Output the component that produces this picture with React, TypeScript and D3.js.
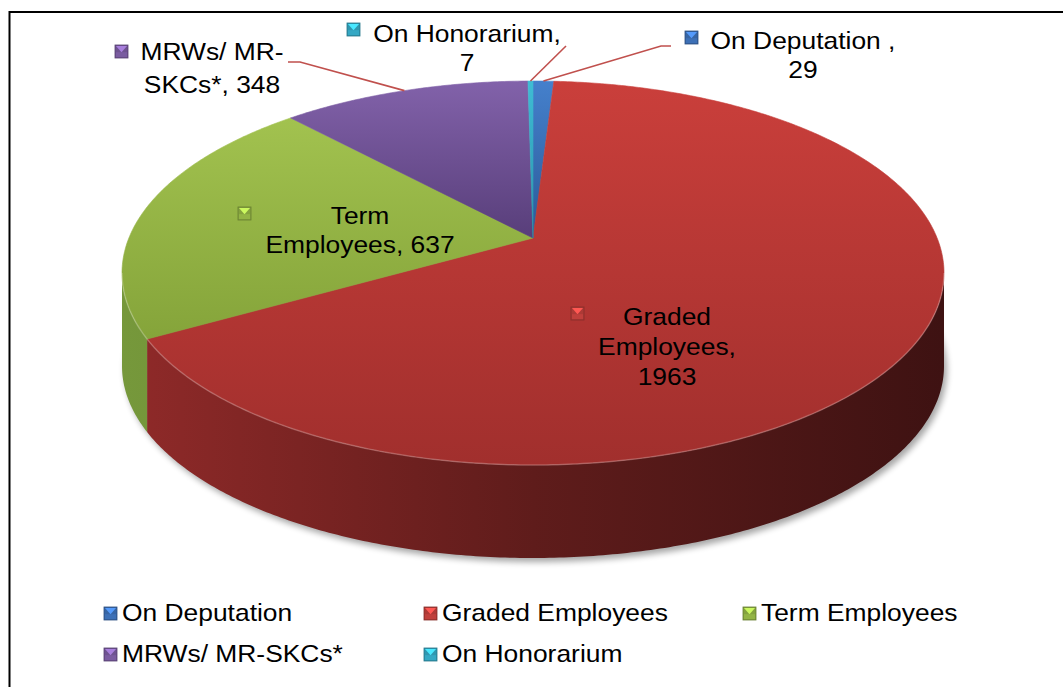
import * as d3 from "d3";

// data
const categories = ["On Deputation", "Graded Employees", "Term Employees", "MRWs/ MR-SKCs*", "On Honorarium"];
const values = [29, 1963, 637, 348, 7];
// data label lines, {v} is replaced by the value
const labelLines = [
  ["On Deputation ,", "{v}"],
  ["Graded", "Employees,", "{v}"],
  ["Term", "Employees, {v}"],
  ["MRWs/ MR-", "SKCs*, {v}"],
  ["On Honorarium,", "{v}"],
];

// styles
const topLight = ["#4580cc", "#ca3f3b", "#a2c24f", "#8262aa", "#3fbcd4"];
const topDark = ["#2b5a98", "#a12f2d", "#85a43a", "#583e7a", "#2a92aa"];
const sideLight = ["#2f5c96", "#902a29", "#76983b", "#5e4482", "#2b8ea6"];
const sideDark = ["#1d3a60", "#3e1212", "#5b782b", "#3c2a55", "#1d6070"];
const keyColor = ["#3d70b6", "#c0403c", "#93b445", "#7a5ca0", "#35a8c4"];

// layout
const W = 1063;
const H = 687;
const CX = 533;
const CY = 273;
const RX = 411;
const RY = 192;
const K = -0.182; // perspective shift of the centre
const DEPTH = 93;
const FONT = "'Liberation Sans', Arial, sans-serif";
const STRETCH = 1.1;

const labelLayout = [
  { cx: 803, baselines: [49, 78], mx: 685, my: 31, leader: [[671, 46], [661, 46]] },
  { cx: 667, baselines: [325, 355, 385], mx: 571, my: 307, leader: null },
  { cx: 360, baselines: [224, 253], mx: 238, my: 207, leader: null },
  { cx: 212, baselines: [60, 93], mx: 115, my: 45, leader: [[288, 62], [300, 62]] },
  { cx: 467, baselines: [42, 71], mx: 347, my: 23, leader: [[566, 46]] },
];
const legendCols = [104, 424, 743];
const legendRows = [621, 662];

const CH = 1 / Math.sqrt(1 - K * K);
const SH = K * CH;

function proj(phi: number, dy = 0): [number, number] {
  const ux = Math.sin(phi);
  const uy = -Math.cos(phi);
  const w = uy * SH + CH;
  return [CX + (RX * ux) / w, CY + (RY * (uy * CH + SH)) / w + dy];
}

function arcPoints(a0: number, a1: number, dy = 0): [number, number][] {
  const n = Math.max(2, Math.ceil((a1 - a0) / 0.01));
  return d3.range(n + 1).map((i) => proj(a0 + ((a1 - a0) * i) / n, dy));
}

const line = d3.line();
const centre: [number, number] = [CX, CY + RY * K];
const F0 = Math.acos(K);
const F1 = 2 * Math.PI - F0;

function Key({ x, y, s, color }: { x: number; y: number; s: number; color: string }) {
  const c = d3.color(color)!;
  return (
    <g transform={`translate(${x},${y})`}>
      <rect width={s} height={s} fill={c.darker(0.3).toString()} />
      <polygon points={`1,1 ${s - 1},1 ${s / 2},${s * 0.55}`} fill={c.brighter(0.9).toString()} />
      <rect x={1} y={s * 0.55} width={s - 2} height={s * 0.45 - 1} fill={c.toString()} />
      <rect width={s} height={s} fill="none" stroke={c.darker(1).toString()} strokeWidth={0.8} />
    </g>
  );
}

function SText({ x, y, anchor, children }: { x: number; y: number; anchor: string; children: string }) {
  return (
    <text
      transform={`translate(${x},${y}) scale(${STRETCH},1)`}
      textAnchor={anchor}
      fontFamily={FONT}
      fontSize={24}
      fill="#000"
    >
      {children}
    </text>
  );
}

export default function App() {
  const arcs = d3
    .pie<number>()
    .sort(null)
    .startAngle(0)
    .endAngle(2 * Math.PI)(values);

  const bottomOutline = line(arcPoints(0, 2 * Math.PI, DEPTH)) + "Z";

  return (
    <svg
      width={W}
      height={H}
      style={{ position: "absolute", left: 0, top: 0, background: "#fff" }}
    >
      <defs>
        <filter id="shadow" x="-10%" y="-10%" width="120%" height="130%">
          <feGaussianBlur stdDeviation={3} />
        </filter>
        {arcs.map((a, i) => (
          <linearGradient key={`t${i}`} id={`top${i}`} x1="0" y1="0" x2="0" y2="1">
            <stop offset="0" stopColor={topLight[i]} />
            <stop offset="1" stopColor={topDark[i]} />
          </linearGradient>
        ))}
        {arcs.map((a, i) => (
          <linearGradient
            key={`s${i}`}
            id={`side${i}`}
            gradientUnits="userSpaceOnUse"
            x1={CX - RX}
            y1={0}
            x2={CX + RX}
            y2={0}
          >
            <stop offset="0" stopColor={sideLight[i]} />
            <stop offset="0.5" stopColor={d3.interpolateRgb(sideLight[i], sideDark[i])(0.6)} />
            <stop offset="1" stopColor={sideDark[i]} />
          </linearGradient>
        ))}
      </defs>

      <rect x={9.5} y={12} width={W + 20} height={H + 20} fill="none" stroke="#000" strokeWidth={2} />

      {/* shadow */}
      <path
        d={bottomOutline}
        transform="translate(3,4)"
        fill="#000"
        opacity={0.35}
        filter="url(#shadow)"
      />

      {/* sides */}
      {arcs.map((a, i) => {
        const s0 = Math.max(a.startAngle, F0);
        const s1 = Math.min(a.endAngle, F1);
        if (s1 <= s0) return null;
        const pts = [...arcPoints(s0, s1), ...arcPoints(s0, s1, DEPTH).reverse()];
        return <path key={`side${i}`} d={line(pts) + "Z"} fill={`url(#side${i})`} />;
      })}

      {/* tops */}
      {arcs.map((a, i) => {
        const pts = [centre, ...arcPoints(a.startAngle, a.endAngle)];
        return (
          <path
            key={`top${i}`}
            d={line(pts) + "Z"}
            fill={`url(#top${i})`}
            stroke={`url(#top${i})`}
            strokeWidth={0.6}
          />
        );
      })}

      {/* rim highlight */}
      <path
        d={line(arcPoints(F0, F1)) ?? ""}
        fill="none"
        stroke="#fff"
        strokeOpacity={0.22}
        strokeWidth={1.5}
      />

      {/* leader lines */}
      {arcs.map((a, i) => {
        const L = labelLayout[i].leader;
        if (!L) return null;
        const end = proj((a.startAngle + a.endAngle) / 2);
        return (
          <path
            key={`lead${i}`}
            d={line([...(L as [number, number][]), end]) ?? ""}
            fill="none"
            stroke="#c0504d"
            strokeWidth={1.6}
          />
        );
      })}

      {/* data labels */}
      {arcs.map((a, i) => {
        const lay = labelLayout[i];
        return (
          <g key={`lab${i}`}>
            <Key x={lay.mx} y={lay.my} s={13} color={keyColor[i]} />
            {labelLines[i].map((t, j) => (
              <SText key={j} x={lay.cx} y={lay.baselines[j]} anchor="middle">
                {t.replace("{v}", String(values[i]))}
              </SText>
            ))}
          </g>
        );
      })}

      {/* legend */}
      {categories.map((c, i) => {
        const x = legendCols[i % 3];
        const y = legendRows[Math.floor(i / 3)];
        return (
          <g key={`leg${i}`}>
            <Key x={x} y={y - 14} s={13} color={keyColor[i]} />
            <SText x={x + 18} y={y} anchor="start">
              {c}
            </SText>
          </g>
        );
      })}
    </svg>
  );
}
